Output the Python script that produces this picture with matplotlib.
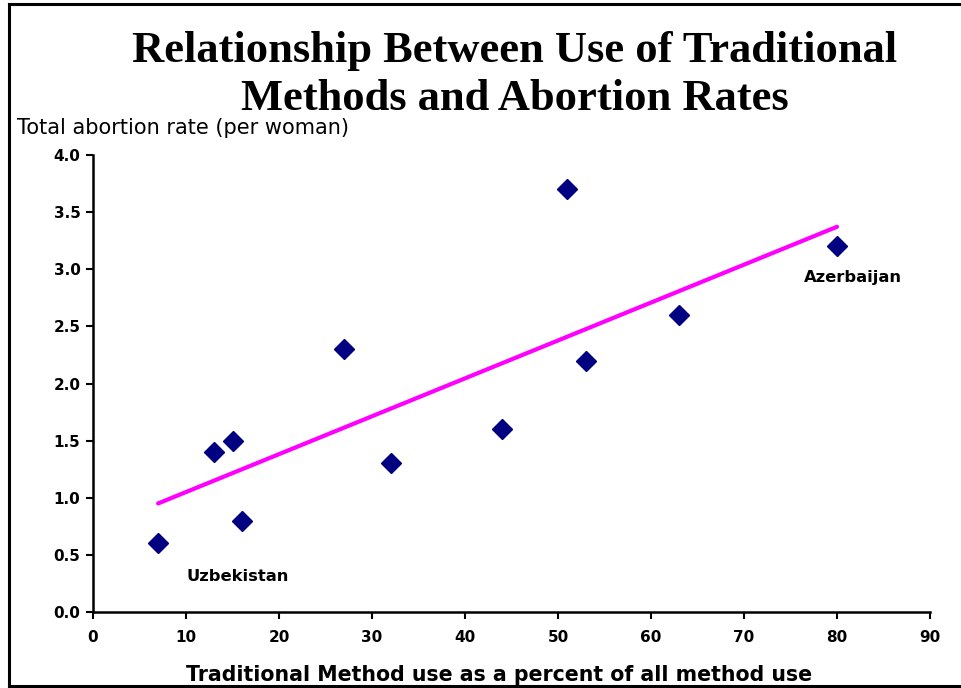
import numpy as np
import matplotlib
matplotlib.use("Agg")
import matplotlib.pyplot as plt
from matplotlib.lines import Line2D

# Traditional method use (% of all method use) and total abortion rate per woman
trad_use = [7, 13, 15, 16, 27, 32, 44, 51, 53, 63, 80]
abortion_rate = [0.6, 1.4, 1.5, 0.8, 2.3, 1.3, 1.6, 3.7, 2.2, 2.6, 3.2]
x_ticks = [0, 10, 20, 30, 40, 50, 60, 70, 80, 90]
y_ticks = [0.0, 0.5, 1.0, 1.5, 2.0, 2.5, 3.0, 3.5, 4.0]

W, H = 961, 688
fig = plt.figure(figsize=(W / 100, H / 100), dpi=100)
fig.patch.set_facecolor("white")

ax = fig.add_axes([93 / W, 1 - 612 / H, (930 - 93) / W, (612 - 155) / H])
ax.set_xlim(0, 90)
ax.set_ylim(0, 4.0)

# Least-squares trend line evaluated at each observed x
slope, intercept = np.polyfit(trad_use, abortion_rate, 1)
xs = np.array(trad_use, dtype=float)
ax.plot(xs, slope * xs + intercept, color="#FF00FF", lw=3, solid_capstyle="round", zorder=2)

ax.plot(trad_use, abortion_rate, linestyle="none", marker="D", markersize=10,
        color="#000080", markeredgecolor="#000080", zorder=3)

for side in ("top", "right"):
    ax.spines[side].set_visible(False)
for side in ("left", "bottom"):
    ax.spines[side].set_linewidth(1.8)
    ax.spines[side].set_color("black")

ax.set_xticks(x_ticks)
ax.set_yticks(y_ticks)
ax.set_xticklabels([str(t) for t in x_ticks], fontsize=11, fontweight="bold", family="DejaVu Sans")
ax.set_yticklabels([f"{t:.1f}" for t in y_ticks], fontsize=11, fontweight="bold", family="DejaVu Sans")
ax.tick_params(axis="both", direction="out", length=5, width=1.5, colors="black")
ax.tick_params(axis="x", pad=8)
ax.tick_params(axis="y", pad=4)

ax.text(81.7, 2.93, "Azerbaijan", ha="center", va="center", fontsize=11.8,
        fontweight="bold", family="DejaVu Sans")
ax.text(10, 0.31, "Uzbekistan", ha="left", va="center", fontsize=11.8,
        fontweight="bold", family="DejaVu Sans")

fig.text(515 / W, 1 - 75 / H, "Relationship Between Use of Traditional\nMethods and Abortion Rates",
         ha="center", va="center", fontsize=32, fontweight="bold",
         family="Liberation Serif", linespacing=1.28)
fig.text(17 / W, 1 - 128 / H, "Total abortion rate (per woman)", ha="left", va="center",
         fontsize=15, family="DejaVu Sans")
fig.text(499 / W, 1 - 675 / H, "Traditional Method use as a percent of all method use",
         ha="center", va="center", fontsize=14.8, fontweight="bold", family="DejaVu Sans")

# Outer frame lines
frame_kw = dict(color="black", lw=2.2, transform=fig.transFigure)
fig.add_artist(Line2D([8.5 / W, 8.5 / W], [0, 1 - 4 / H], **frame_kw))
fig.add_artist(Line2D([8.5 / W, 1], [1 - 4 / H, 1 - 4 / H], **frame_kw))
fig.add_artist(Line2D([8.5 / W, 1], [1 - 686 / H, 1 - 686 / H], **frame_kw))

fig.savefig("out.png", dpi=100)
